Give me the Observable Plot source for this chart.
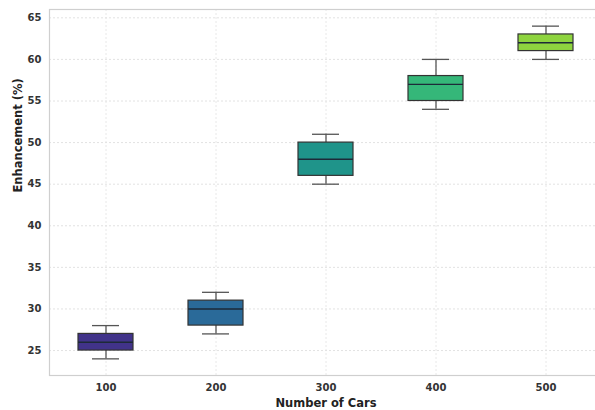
<!DOCTYPE html>
<html>
<head>
<meta charset="utf-8">
<script src="https://cdn.jsdelivr.net/npm/d3@7"></script>
<script src="https://cdn.jsdelivr.net/npm/@observablehq/plot@0.6"></script>
<style>
  html, body { margin: 0; padding: 0; background: #fff; overflow: hidden; }
  #chart { width: 595px; height: 410px; overflow: hidden; }
  #chart svg { display: block; overflow: hidden; }
</style>
</head>
<body>
<div id="chart"></div>
<script>
const cars = ["100", "200", "300", "400", "500"];
const whiskerLow = [24, 27, 45, 54, 60];
const q1 = [25, 28, 46, 55, 61];
const median = [26, 30, 48, 57, 62];
const q3 = [27, 31, 50, 58, 63];
const whiskerHigh = [28, 32, 51, 60, 64];
const boxColors = ["#41338a", "#2a6a99", "#1f948a", "#35b779", "#8ed43f"];
const yTicks = [25, 30, 35, 40, 45, 50, 55, 60, 65];
const xLabel = "Number of Cars";
const yLabel = "Enhancement (%)";

const data = cars.map((c, i) => ({
  car: c, lo: whiskerLow[i], q1: q1[i], med: median[i], q3: q3[i], hi: whiskerHigh[i], color: boxColors[i]
}));

const chart = Plot.plot({
  width: 595,
  height: 410,
  marginLeft: 49,
  marginRight: 0,
  marginTop: 9,
  marginBottom: 35,
  style: { fontFamily: "DejaVu Sans", background: "#fff" },
  x: { type: "band", domain: cars, paddingInner: 0.5, paddingOuter: 0.25, range: [49, 602.5] },
  y: { domain: [22, 66] },
  marks: [
    Plot.gridY(yTicks, { stroke: "#dadada", strokeOpacity: 1, strokeDasharray: "2,2", strokeWidth: 0.8 }),
    Plot.gridX(cars, { stroke: "#e2e2e2", strokeOpacity: 1, strokeDasharray: "2,2", strokeWidth: 0.8 }),
    Plot.frame({ stroke: "#cfcfcf", strokeWidth: 1.2, insetRight: -10 }),
    Plot.ruleX(data, { x: "car", y1: "lo", y2: "q1", stroke: "#555", strokeWidth: 1.3 }),
    Plot.ruleX(data, { x: "car", y1: "q3", y2: "hi", stroke: "#555", strokeWidth: 1.3 }),
    Plot.tickY(data, { x: "car", y: "lo", insetLeft: 14, insetRight: 14, stroke: "#555", strokeWidth: 1.3 }),
    Plot.tickY(data, { x: "car", y: "hi", insetLeft: 14, insetRight: 14, stroke: "#555", strokeWidth: 1.3 }),
    Plot.barY(data, { x: "car", y1: "q1", y2: "q3", fill: "color", stroke: "#333", strokeWidth: 1.2 }),
    Plot.tickY(data, { x: "car", y: "med", stroke: "#1d2a38", strokeWidth: 1.4 }),
    Plot.axisY({ ticks: yTicks, tickSize: 0, tickPadding: 8, fontSize: 10, fontWeight: "bold", fill: "#333", label: null }),
    Plot.axisX({ tickSize: 0, tickPadding: 8, fontSize: 10, fontWeight: "bold", fill: "#333", label: null }),
    Plot.text([yLabel], { frameAnchor: "left", dx: -31, rotate: -90, fontSize: 11.5, fontWeight: "bold", fill: "#222" }),
    Plot.text([xLabel], { x: () => "300", frameAnchor: "bottom", dy: 28, fontSize: 11.5, fontWeight: "bold", fill: "#222", lineAnchor: "middle" })
  ]
});
document.getElementById("chart").appendChild(chart);
</script>
</body>
</html>
